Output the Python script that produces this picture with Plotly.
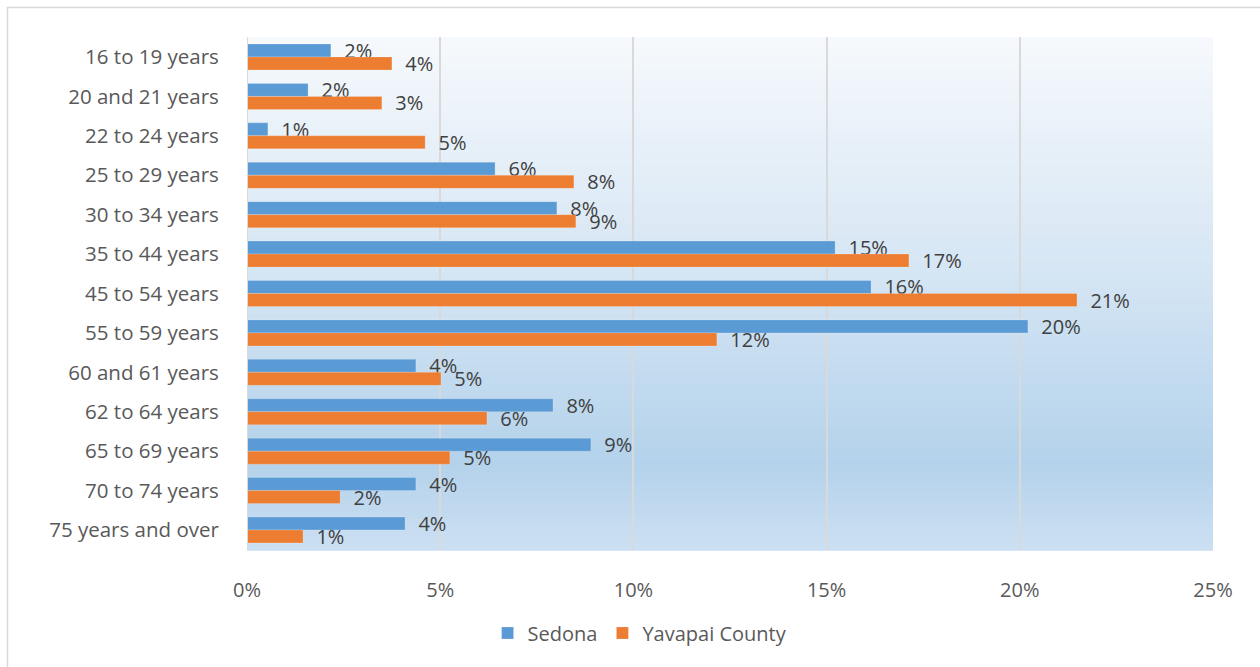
import plotly.graph_objects as go

categories = ["16 to 19 years", "20 and 21 years", "22 to 24 years", "25 to 29 years",
              "30 to 34 years", "35 to 44 years", "45 to 54 years", "55 to 59 years",
              "60 and 61 years", "62 to 64 years", "65 to 69 years", "70 to 74 years",
              "75 years and over"]
sedona = [2.17, 1.58, 0.54, 6.42, 8.02, 15.22, 16.15, 20.21, 4.37, 7.92, 8.90, 4.37, 4.09]
yavapai = [3.75, 3.49, 4.61, 8.46, 8.51, 17.13, 21.48, 12.16, 5.02, 6.21, 5.25, 2.41, 1.45]
tick_vals = [0, 5, 10, 15, 20, 25]
tick_text = ["0%", "5%", "10%", "15%", "20%", "25%"]

W, H = 1260, 667
FONT = "'Open Sans', sans-serif"

x0, x1 = 247 / W, 1213 / W
y0, y1 = 1 - 549.7 / H, 1 - 37.3 / H

fig = go.Figure()
pad = "\u00a0\u00a0"
for name, vals, color in [("Sedona", sedona, "#5b9bd5"), ("Yavapai County", yavapai, "#ed7d31")]:
    fig.add_trace(go.Bar(
        y=categories, x=vals, name=name, orientation="h",
        marker=dict(color=color, line=dict(color="rgba(255,255,255,0.4)", width=0.5)),
        text=[f"{pad}{round(v):.0f}%" for v in vals], textposition="outside",
        constraintext="none",
        textfont=dict(family=FONT, size=20, color="#404040"), cliponaxis=False,
    ))

# vertical gradient background of the plot area
stops = [(0.0, (246, 249, 252)), (0.45, (214, 230, 244)), (0.83, (180, 210, 235)), (1.0, (204, 224, 242))]
def col(t):
    for (a, ca), (b, cb) in zip(stops[:-1], stops[1:]):
        if a <= t <= b:
            f = (t - a) / (b - a)
            return "rgb(%d,%d,%d)" % tuple(round(ca[i] + (cb[i] - ca[i]) * f) for i in range(3))
    return "rgb(%d,%d,%d)" % stops[-1][1]

shapes = []
N = 80
for i in range(N):
    t = (i + 0.5) / N
    shapes.append(dict(type="rect", xref="x domain", yref="y domain",
                       x0=0, x1=1, y0=1 - (i + 1) / N - 0.002, y1=1 - i / N,
                       fillcolor=col(t), line=dict(width=0), layer="below"))
# outer chart border
shapes.append(dict(type="rect", xref="paper", yref="paper",
                   x0=7.5 / W, x1=1.05, y0=-0.05, y1=1 - 7.5 / H,
                   line=dict(color="#d9d9d9", width=1.5), fillcolor="rgba(0,0,0,0)", layer="below"))

fig.update_layout(
    width=W, height=H,
    margin=dict(l=0, r=0, t=0, b=0),
    paper_bgcolor="white", plot_bgcolor="rgba(0,0,0,0)",
    barmode="group", bargap=0.34, bargroupgap=0,
    shapes=shapes,
    showlegend=True,
    legend=dict(orientation="h", x=0.508, xanchor="center", y=1 - 633 / H, yanchor="middle",
                font=dict(family=FONT, size=20, color="#595959"), bgcolor="rgba(0,0,0,0)",
                traceorder="normal", itemwidth=30),
    xaxis=dict(domain=[x0, x1], range=[0, 25], tickvals=tick_vals, ticktext=tick_text,
               showgrid=True, gridcolor="#d9d9d9", gridwidth=1.5, zeroline=False,
               showline=False, ticks="outside", ticklen=22, tickcolor="rgba(0,0,0,0)",
               tickfont=dict(family=FONT, size=20, color="#595959"), automargin=False, fixedrange=True),
    yaxis=dict(domain=[y0, y1], autorange="reversed", showgrid=False, zeroline=False,
               showline=False, ticks="outside", ticklen=23, tickcolor="rgba(0,0,0,0)",
               tickfont=dict(family=FONT, size=20.5, color="#595959"), automargin=False),
)
# 0% axis line
fig.add_shape(type="line", xref="x", yref="y domain", x0=0, x1=0, y0=0, y1=1,
              line=dict(color="#d9d9d9", width=2), layer="above")

fig.write_html("out.html")
